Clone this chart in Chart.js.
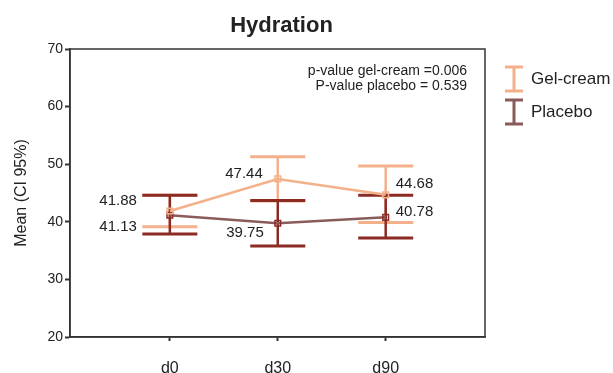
<!DOCTYPE html>
<html>
<head>
<meta charset="utf-8">
<title>Hydration</title>
<script src="https://cdn.jsdelivr.net/npm/chart.js@4.4.0/dist/chart.umd.min.js"></script>
<style>
  body { margin: 0; background: #fff; }
  canvas { display: block; }
</style>
</head>
<body>
<canvas id="hydrationChart" width="613" height="373"></canvas>
<script>
'use strict';

// visits and group means with their 95% CI bounds
let days = ['d0', 'd30', 'd90'];
let gelMean = [41.88, 47.44, 44.68];
let gelLow = [39.15, 43.6, 39.9];
let gelHigh = [44.6, 51.3, 49.7];
let placeboMean = [41.13, 39.75, 40.78];
let placeboLow = [37.9, 35.8, 37.2];
let placeboHigh = [44.6, 43.7, 44.6];
let yTicks = [20, 30, 40, 50, 60, 70];
let pValueLines = ['p-value gel-cream =0.006', 'P-value placebo = 0.539'];

let FONT = "'Liberation Sans', Arial, sans-serif";
let gelColor = '#f3b08b';
let placeboLine = '#8a5b59';
let placeboBar = '#8c2b24';
let inkColor = '#222';

function toPoints(values) {
  return values.map((v, i) => ({ x: i, y: v }));
}

// label offsets (px) from each mean point: [dx, dy, align]
let gelLabelPos = [[-33, -10, 'right'], [-15, -5, 'right'], [10, -11, 'left']];
let placeboLabelPos = [[-33, 12, 'right'], [-14, 10, 'right'], [10, -5, 'left']];

let ciPlugin = {
  id: 'ciBars',
  beforeDatasetsDraw(chart) {
    let ctx = chart.ctx;
    let xs = chart.scales.x;
    let ys = chart.scales.y;
    let area = chart.chartArea;

    // frame around the plot
    ctx.save();
    ctx.strokeStyle = '#333';
    ctx.lineWidth = 1.5;
    ctx.strokeRect(area.left, area.top, area.right - area.left, area.bottom - area.top);
    ctx.restore();

    let drawBars = function (low, high, color) {
      ctx.save();
      ctx.strokeStyle = color;
      ctx.lineCap = 'butt';
      for (let i = 0; i < low.length; i++) {
        let x = xs.getPixelForValue(i);
        let yl = ys.getPixelForValue(low[i]);
        let yh = ys.getPixelForValue(high[i]);
        ctx.lineWidth = 2.5;
        ctx.beginPath();
        ctx.moveTo(x, yl);
        ctx.lineTo(x, yh);
        ctx.stroke();
        ctx.lineWidth = 3;
        ctx.beginPath();
        ctx.moveTo(x - 27.5, yl);
        ctx.lineTo(x + 27.5, yl);
        ctx.moveTo(x - 27.5, yh);
        ctx.lineTo(x + 27.5, yh);
        ctx.stroke();
      }
      ctx.restore();
    };
    drawBars(gelLow, gelHigh, gelColor);
    drawBars(placeboLow, placeboHigh, placeboBar);
  },
  afterDraw(chart) {
    let ctx = chart.ctx;
    let xs = chart.scales.x;
    let ys = chart.scales.y;
    let area = chart.chartArea;

    ctx.save();
    ctx.fillStyle = inkColor;
    ctx.textBaseline = 'middle';

    // title
    ctx.font = 'bold 22px ' + FONT;
    ctx.textAlign = 'center';
    ctx.fillText('Hydration', (area.left + area.right) / 2 + 4, 26);

    // mean value labels
    ctx.font = '15px ' + FONT;
    let drawLabels = function (values, pos) {
      for (let i = 0; i < values.length; i++) {
        ctx.textAlign = pos[i][2];
        ctx.fillText(values[i].toFixed(2),
          xs.getPixelForValue(i) + pos[i][0],
          ys.getPixelForValue(values[i]) + pos[i][1]);
      }
    };
    drawLabels(gelMean, gelLabelPos);
    drawLabels(placeboMean, placeboLabelPos);

    // p-values
    ctx.font = '14px ' + FONT;
    ctx.textAlign = 'right';
    ctx.fillText(pValueLines[0], 467, 71);
    ctx.fillText(pValueLines[1], 467, 86);

    // legend
    let legendItems = [['Gel-cream', gelColor, 79], ['Placebo', placeboLine, 112]];
    legendItems.forEach(function (item) {
      let cx = 514;
      let cy = item[2];
      ctx.strokeStyle = item[1];
      ctx.lineWidth = 3;
      ctx.beginPath();
      ctx.moveTo(cx, cy - 12);
      ctx.lineTo(cx, cy + 12);
      ctx.moveTo(cx - 9, cy - 12);
      ctx.lineTo(cx + 9, cy - 12);
      ctx.moveTo(cx - 9, cy + 12);
      ctx.lineTo(cx + 9, cy + 12);
      ctx.stroke();
      ctx.font = '17px ' + FONT;
      ctx.textAlign = 'left';
      ctx.fillStyle = inkColor;
      ctx.fillText(item[0], 531, cy);
    });
    ctx.restore();
  }
};

let ctx = document.getElementById('hydrationChart').getContext('2d');
new Chart(ctx, {
  type: 'line',
  data: {
    datasets: [
      {
        label: 'Gel-cream',
        data: toPoints(gelMean),
        borderColor: gelColor,
        borderWidth: 2.5,
        pointStyle: 'rect',
        pointRadius: 4,
        pointBorderWidth: 1.5,
        pointBorderColor: gelColor,
        pointBackgroundColor: 'rgba(0,0,0,0)',
        tension: 0,
      },
      {
        label: 'Placebo',
        data: toPoints(placeboMean),
        borderColor: placeboLine,
        borderWidth: 2.5,
        pointStyle: 'rect',
        pointRadius: 4,
        pointBorderWidth: 1.5,
        pointBorderColor: placeboBar,
        pointBackgroundColor: 'rgba(0,0,0,0)',
        tension: 0,
      },
    ],
  },
  options: {
    responsive: false,
    animation: false,
    layout: { padding: { top: 49, right: 128, left: 0, bottom: 0 } },
    plugins: {
      legend: { display: false },
      title: { display: false },
      tooltip: { enabled: false },
    },
    scales: {
      x: {
        type: 'linear',
        min: -0.925,
        max: 2.92,
        afterBuildTicks: (scale) => {
          scale.ticks = days.map((d, i) => ({ value: i }));
        },
        afterFit: (scale) => { scale.height = 36; },
        ticks: {
          callback: (value) => days[value],
          color: inkColor,
          font: { family: FONT, size: 16 },
          padding: 18,
          maxRotation: 0,
        },
        grid: { drawOnChartArea: false, drawTicks: true, tickLength: 4, color: '#333', tickWidth: 2 },
        border: { display: true, color: '#333', width: 1.5 },
      },
      y: {
        min: 20,
        max: 70,
        afterBuildTicks: (scale) => {
          scale.ticks = yTicks.map((v) => ({ value: v }));
        },
        afterFit: (scale) => { scale.width = 70; },
        ticks: {
          color: inkColor,
          font: { family: FONT, size: 14 },
          padding: 2,
        },
        grid: { drawOnChartArea: false, drawTicks: true, tickLength: 5, color: '#333', tickWidth: 2 },
        border: { display: true, color: '#333', width: 1.5 },
        title: {
          display: true,
          text: 'Mean (CI 95%)',
          color: inkColor,
          font: { family: FONT, size: 16 },
          padding: { top: 12, bottom: 0 },
        },
      },
    },
  },
  plugins: [ciPlugin],
});
</script>
</body>
</html>
